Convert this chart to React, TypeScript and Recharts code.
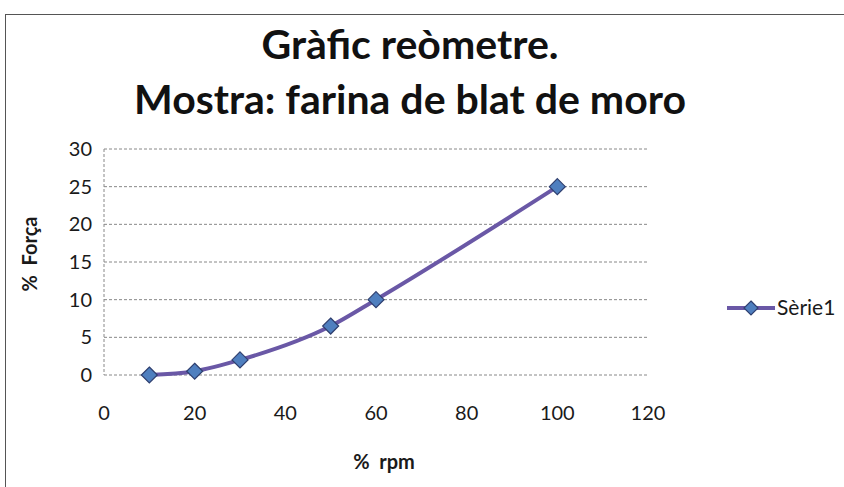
import React from "react";
import { LineChart, Line, XAxis, YAxis, CartesianGrid, Legend } from "recharts";

const rpm = [10, 20, 30, 50, 60, 100];
const forca = [0, 0.5, 2, 6.5, 10, 25];
const xTicks = [0, 20, 40, 60, 80, 100, 120];
const yTicks = [0, 5, 10, 15, 20, 25, 30];
const seriesName = "Sèrie1";
const titleLines = ["Gràfic reòmetre.", "Mostra: farina de blat de moro"];
const xLabel = "%\u00a0\u00a0rpm";
const yLabel = "%\u00a0\u00a0Força";

const data = rpm.map((x, i) => ({ x, y: forca[i] }));

const FONT = "Lato, 'Open Sans', sans-serif";

const Diamond = (props: any) => {
  const { cx, cy } = props;
  if (cx == null || cy == null) return null;
  const r = 8;
  return (
    <polygon
      points={`${cx},${cy - r} ${cx + r},${cy} ${cx},${cy + r} ${cx - r},${cy}`}
      fill="#4f7fbf"
      stroke="#2f3f6f"
      strokeWidth={1.2}
    />
  );
};

const LegendContent = () => (
  <svg width={125} height={26}>
    <line x1={2} y1={13} x2={50} y2={13} stroke="#6a58a6" strokeWidth={4} />
    <polygon points="26,6 33,13 26,20 19,13" fill="#4f7fbf" stroke="#2f3f6f" strokeWidth={1.2} />
    <text x={52} y={20} fontSize={21} fontFamily={FONT} fill="#1a1a1a">
      {seriesName}
    </text>
  </svg>
);

export default function App() {
  return (
    <div style={{ position: "absolute", left: 0, top: 0, width: 844, height: 487, background: "#fff", overflow: "hidden" }}>
      <div
        style={{
          position: "absolute",
          left: 5,
          top: 14,
          width: 860,
          height: 500,
          borderTop: "1.5px solid #555",
          borderLeft: "1.5px solid #555",
        }}
      />
      <div
        style={{
          position: "absolute",
          left: 0,
          width: 820,
          top: 16,
          textAlign: "center",
          fontFamily: FONT,
          fontWeight: 700,
          fontSize: 41,
          lineHeight: "55px",
          color: "#111",
        }}
      >
        <div>{titleLines[0]}</div>
        <div>{titleLines[1]}</div>
      </div>
      <LineChart
        width={844}
        height={487}
        data={data}
        margin={{ top: 149, right: 196, bottom: 52, left: 44 }}
      >
        <CartesianGrid
          vertical={false}
          stroke="#888"
          strokeDasharray="3 2"
          horizontalValues={yTicks}
        />
        <XAxis
          dataKey="x"
          type="number"
          domain={[0, 120]}
          ticks={xTicks}
          axisLine={false}
          tickLine={false}
          tickSize={0}
          tickMargin={31}
          height={30}
          tick={{ fontSize: 20, fontFamily: FONT, fill: "#1a1a1a" }}
          label={{
            value: xLabel,
            position: "insideBottom",
            offset: -64,
            dx: 8,
            style: { fontSize: 20, fontWeight: 700, fontFamily: FONT, fill: "#1a1a1a" },
          }}
        />
        <YAxis
          type="number"
          domain={[0, 30]}
          ticks={yTicks}
          width={60}
          axisLine={{ stroke: "#888", strokeDasharray: "3 2" }}
          tickLine={false}
          tickSize={0}
          tickMargin={12}
          tick={{ fontSize: 20, fontFamily: FONT, fill: "#1a1a1a" }}
          label={{
            value: yLabel,
            angle: -90,
            position: "insideLeft",
            offset: -14,
            dy: -8,
            style: { fontSize: 20, fontWeight: 700, fontFamily: FONT, fill: "#1a1a1a", textAnchor: "middle" },
          }}
        />
        <Legend
          content={<LegendContent />}
          wrapperStyle={{ position: "absolute", left: 725, top: 295, width: 125 }}
        />
        <Line
          type="monotone"
          dataKey="y"
          name={seriesName}
          stroke="#6a58a6"
          strokeWidth={4}
          dot={<Diamond />}
          activeDot={false}
          isAnimationActive={false}
        />
      </LineChart>
    </div>
  );
}
